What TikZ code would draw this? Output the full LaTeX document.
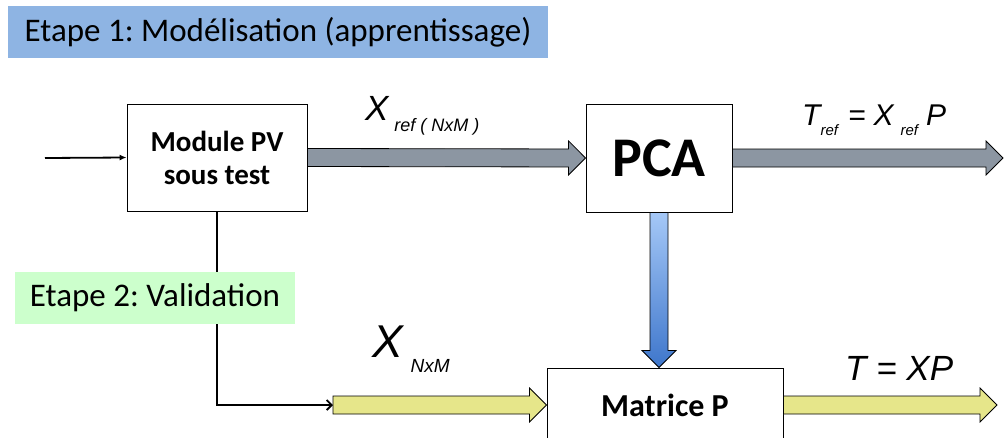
\documentclass[tikz,border=0pt]{standalone}
\usepackage{fontspec}
\setmainfont{Carlito}
\newfontfamily\eqfont{Liberation Sans}
\usetikzlibrary{arrows.meta,calc}
\frenchspacing

\definecolor{bannerblue}{HTML}{8EB4E3}
\definecolor{bannergreen}{HTML}{CCFFCC}
\definecolor{slategrey}{HTML}{8C96A2}
\definecolor{paleyellow}{HTML}{E6E68A}
\definecolor{bluetop}{HTML}{A5C8F7}
\definecolor{bluebottom}{HTML}{3E76CB}

\newcommand{\fatarrow}[3][]{%
    \path[#1] let \p1=(#2), \p2=(#3),
        \n1={atan2(\y2-\y1,\x2-\x1)}, \n2={veclen(\x2-\x1,\y2-\y1)} in
        [shift={(\p1)}, rotate=\n1]
        (0pt,-9pt) -- ({\n2*1pt-17pt},-9pt) -- ({\n2*1pt-17pt},-17pt)
        -- ({\n2*1pt},0pt) -- ({\n2*1pt-17pt},17pt) -- ({\n2*1pt-17pt},9pt)
        -- (0pt,9pt) -- cycle;}

\newcommand{\subtxt}[3]{\raisebox{-#1}{\fontsize{#2}{#2}\selectfont #3}}

\begin{document}
\begin{tikzpicture}[x=1pt, y=-1pt,
    block/.style={draw, fill=white, line width=0.9pt, align=center,
        font=\bfseries\fontsize{29}{33}\selectfont},
    banner/.style={inner sep=0pt, font=\fontsize{33}{38}\selectfont},
    wire/.style={line width=1.8pt},
    fat/.style={draw=black, line width=0.8pt},
    eq/.style={anchor=base west, inner sep=0pt, font=\eqfont\itshape}]

    \useasboundingbox (0,0) rectangle (1005,437);

    \node[banner, fill=bannerblue, minimum width=540, minimum height=52] (etape1) at (278,32)
        {Etape 1: Modélisation (apprentissage)};

    \node[block, minimum width=180, minimum height=107] (pv) at (217,157.5) {Module PV\\sous test};
    \node[block, minimum width=146, minimum height=108, font=\bfseries\fontsize{56}{56}\selectfont] (pca) at (659,158) {PCA};
    \node[block, minimum width=236, minimum height=74, font=\bfseries\fontsize{32}{32}\selectfont] (matp) at (665,405) {Matrice P};

    \coordinate (in) at (45,158);
    \coordinate (xin) at (333,405);
    \coordinate (tref) at (1003,158);
    \coordinate (tout) at (997,405);

    \draw[wire, -{Latex[length=7pt,width=6pt]}] (in) -- (pv.west);
    \draw[wire, -{Straight Barb[length=5pt,width=10pt]}] (pv.south) |- (xin);

    \node[banner, fill=bannergreen, minimum width=280, minimum height=52] (etape2) at (155,298)
        {Etape 2: Validation};

    \fatarrow[fat, fill=slategrey]{pv.east}{pca.west}
    \fatarrow[fat, fill=slategrey]{pca.east}{tref}
    \fatarrow[fat, top color=bluetop, bottom color=bluebottom]{pca.south}{pca.south |- matp.north}
    \fatarrow[fat, fill=paleyellow]{xin}{matp.west}
    \fatarrow[fat, fill=paleyellow]{matp.east}{tout}

    \node[eq, font=\eqfont\itshape\fontsize{35}{35}\selectfont] (xreflbl) at (365,120)
        {X\,\subtxt{11pt}{18}{ref ( NxM )}};
    \node[eq, font=\eqfont\itshape\fontsize{30}{30}\selectfont] (treflbl) at (802,125)
        {T\subtxt{10pt}{15}{ref}\kern10pt=\kern8pt X\kern7pt\subtxt{10pt}{15}{ref}\kern8pt P};
    \node[eq, font=\eqfont\itshape\fontsize{46}{46}\selectfont] (xlbl) at (372,357)
        {X\,\subtxt{15pt}{19}{NxM}};
    \node[eq, font=\eqfont\itshape\fontsize{35}{35}\selectfont] (tlbl) at (845,380)
        {T = XP};

\end{tikzpicture}
\end{document}
